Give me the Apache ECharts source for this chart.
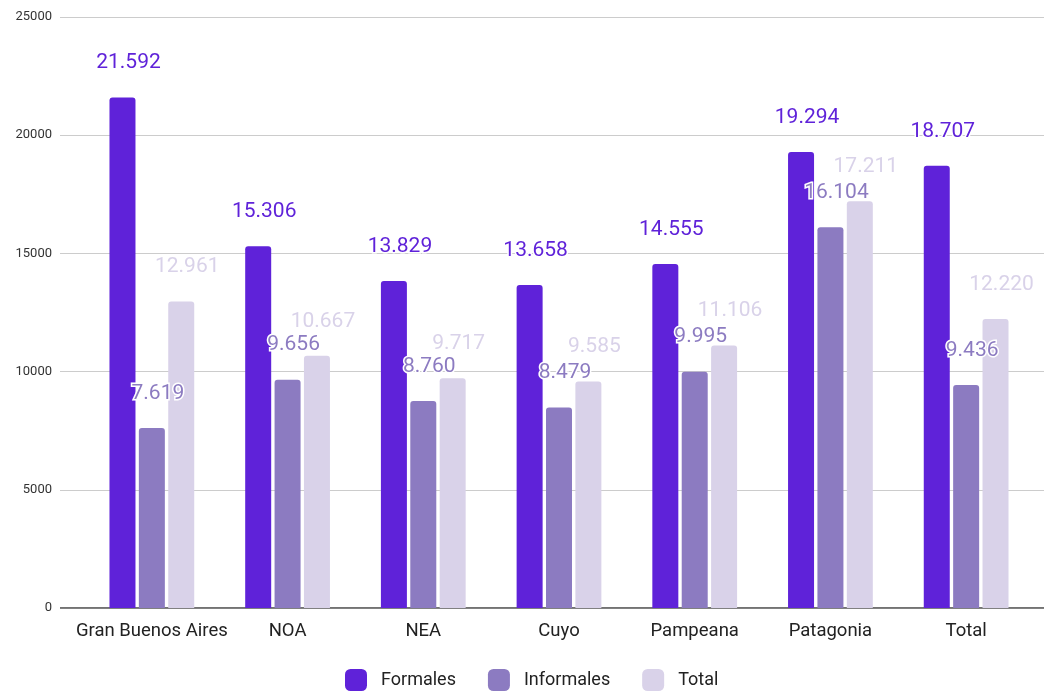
<!DOCTYPE html>
<html><head><meta charset="utf-8">
<script src="https://cdn.jsdelivr.net/npm/echarts@6/dist/echarts.min.js"></script>
<style>html,body{margin:0;padding:0;background:#fff}#c{width:1044px;height:691px}</style>
</head><body><div id="c"></div>
<script>
const categories = ['Gran Buenos Aires','NOA','NEA','Cuyo','Pampeana','Patagonia','Total'];
const formales = [21592, 15306, 13829, 13658, 14555, 19294, 18707];
const informales = [7619, 9656, 8760, 8479, 9995, 16104, 9436];
const total = [12961, 10667, 9717, 9585, 11106, 17211, 12220];
const seriesNames = ['Formales','Informales','Total'];
const colors = ['#5f22d9','#8c7bc1','#d9d2e9'];
const yTicks = [0, 5000, 10000, 15000, 20000, 25000];

function fmt(v){ return String(v).replace(/\B(?=(\d{3})+(?!\d))/g, '.'); }

const chart = echarts.init(document.getElementById('c'));
const F = 'Roboto, sans-serif';
function mk(name, data, color){
  return {
    name, type:'bar', data, xAxisIndex:0, yAxisIndex:0,
    barWidth:26, barGap:'13%',
    itemStyle:{color, borderRadius:[3,3,0,0]},
    label:{show:true, position:'top', distance:24, offset:[6,0],
      formatter:p=>fmt(p.value), color, fontFamily:F, fontSize:21,
      textBorderColor:'#fff', textBorderWidth:3}
  };
}
chart.setOption({
  animation:false,
  color:colors,
  textStyle:{fontFamily:F},
  grid:[
    {left:84, right:10, top:17, bottom:83},
    {left:60, right:0, top:17, bottom:83}
  ],
  legend:{
    data:seriesNames, top:664, left:340, itemWidth:22, itemHeight:22, itemGap:32,
    icon:'roundRect', textStyle:{fontSize:18, color:'#222', fontFamily:F, padding:[0,0,0,9]}
  },
  xAxis:[
    {type:'category', gridIndex:0, data:categories,
     axisLine:{show:false}, axisTick:{show:false},
     axisLabel:{fontSize:18.5, color:'#222', margin:14, fontFamily:F, interval:0}},
    {type:'value', gridIndex:1, min:0, max:1, show:false}
  ],
  yAxis:[
    {type:'value', gridIndex:0, min:0, max:25000, interval:5000,
     axisLabel:{show:false}, splitLine:{show:false}, axisLine:{show:false}, axisTick:{show:false}},
    {type:'value', gridIndex:1, min:0, max:25000, interval:5000,
     axisLine:{show:false}, axisTick:{show:false},
     axisLabel:{fontSize:13, color:'#333', margin:8, fontFamily:F,
       formatter:v=>yTicks.includes(v)?String(v):''},
     splitLine:{lineStyle:{color:'#cccccc', width:1}}}
  ],
  series:[
    mk(seriesNames[0], formales, colors[0]),
    mk(seriesNames[1], informales, colors[1]),
    mk(seriesNames[2], total, colors[2]),
    {type:'line', xAxisIndex:1, yAxisIndex:1, data:[[0,0],[1,0]], symbol:'none',
     silent:true, lineStyle:{color:'#444', width:1.5}, z:1, legendHoverLink:false}
  ]
});
</script></body></html>
